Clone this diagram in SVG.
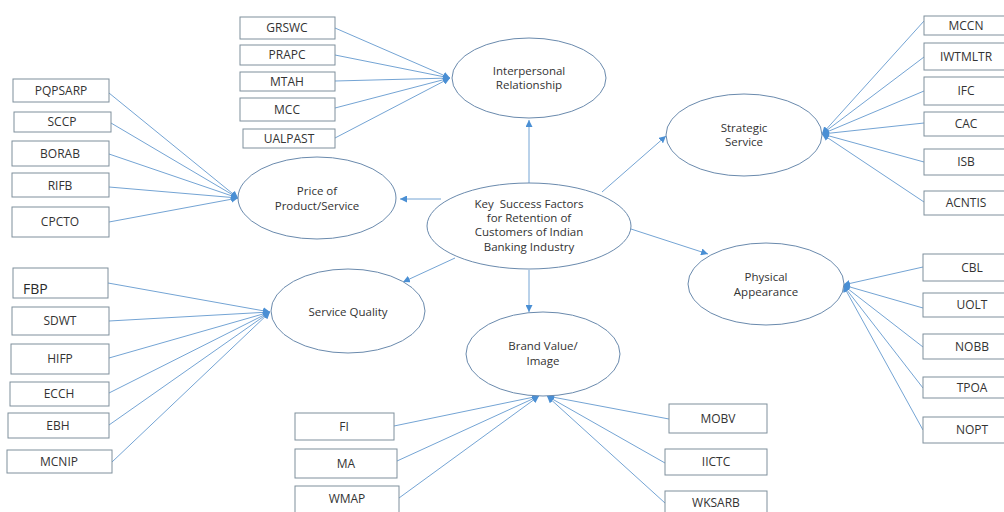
<svg xmlns="http://www.w3.org/2000/svg" width="1004" height="512" viewBox="0 0 1004 512">
<defs>
<marker id="ah" viewBox="0 0 10 10" refX="10" refY="5" markerWidth="7" markerHeight="7" markerUnits="userSpaceOnUse" orient="auto">
<path d="M0,0 L10,5 L0,10 z" fill="#4a8fd4"/>
</marker>
</defs>
<style>
.box{fill:#fff;stroke:#7f8f9c;stroke-width:1}
.ell{fill:#fff;stroke:#6a8aad;stroke-width:1}
.bt{font-family:"Open Sans","Liberation Sans",sans-serif;font-size:12px;fill:#333;text-anchor:middle}
.et{font-family:"Open Sans","Liberation Sans",sans-serif;font-size:11.5px;fill:#333;text-anchor:middle;white-space:pre}
.cn line{stroke:#74a4d4;stroke-width:1;marker-end:url(#ah)}
</style>
<rect width="1004" height="512" fill="#fff"/>
<g id="connectors" class="cn">
<line x1="335" y1="28" x2="450" y2="78"/>
<line x1="335" y1="55" x2="450" y2="78"/>
<line x1="335" y1="81" x2="450" y2="78"/>
<line x1="335" y1="108" x2="450" y2="78"/>
<line x1="335" y1="138" x2="450" y2="78"/>
<line x1="109" y1="93" x2="238" y2="198"/>
<line x1="111" y1="123" x2="238" y2="198"/>
<line x1="109" y1="154" x2="238" y2="198"/>
<line x1="109" y1="187" x2="238" y2="198"/>
<line x1="109" y1="222" x2="238" y2="198"/>
<line x1="108" y1="283" x2="270" y2="312"/>
<line x1="109" y1="321" x2="270" y2="312"/>
<line x1="109" y1="358" x2="270" y2="312"/>
<line x1="109" y1="393" x2="270" y2="312"/>
<line x1="109" y1="425" x2="270" y2="312"/>
<line x1="112" y1="462" x2="270" y2="312"/>
<line x1="394" y1="426" x2="539" y2="396"/>
<line x1="397" y1="461" x2="539" y2="396"/>
<line x1="399" y1="498" x2="539" y2="396"/>
<line x1="669" y1="419" x2="547" y2="396"/>
<line x1="665" y1="463" x2="547" y2="396"/>
<line x1="665" y1="503" x2="547" y2="396"/>
<line x1="924" y1="21" x2="822" y2="134"/>
<line x1="924" y1="57" x2="822" y2="134"/>
<line x1="924" y1="91" x2="822" y2="134"/>
<line x1="924" y1="123" x2="822" y2="134"/>
<line x1="924" y1="162" x2="822" y2="134"/>
<line x1="924" y1="202" x2="822" y2="134"/>
<line x1="923" y1="267" x2="843" y2="285"/>
<line x1="923" y1="308" x2="843" y2="285"/>
<line x1="923" y1="347" x2="843" y2="285"/>
<line x1="923" y1="388" x2="843" y2="285"/>
<line x1="923" y1="430" x2="843" y2="285"/>
<line x1="529" y1="183" x2="529" y2="120"/>
<line x1="441" y1="199" x2="400" y2="199"/>
<line x1="602" y1="192" x2="666" y2="136"/>
<line x1="631" y1="229" x2="708" y2="254"/>
<line x1="455" y1="258" x2="403" y2="282"/>
<line x1="529" y1="270" x2="529" y2="312"/>
</g>
<g id="ksf"><ellipse class="ell" cx="529" cy="226" rx="102" ry="43"/>
<text class="et" x="529" y="208" xml:space="preserve">Key  Success Factors</text>
<text class="et" x="529" y="222">for Retention of</text>
<text class="et" x="529" y="236">Customers of Indian</text>
<text class="et" x="529" y="251">Banking Industry</text></g>
<g id="interpersonal"><ellipse class="ell" cx="529" cy="78" rx="77" ry="40"/>
<text class="et" x="529" y="75">Interpersonal</text>
<text class="et" x="529" y="89">Relationship</text></g>
<g id="price"><ellipse class="ell" cx="317" cy="198" rx="79" ry="41"/>
<text class="et" x="317" y="195">Price of</text>
<text class="et" x="317" y="210">Product/Service</text></g>
<g id="strategic"><ellipse class="ell" cx="744" cy="135" rx="78" ry="41"/>
<text class="et" x="744" y="132">Strategic</text>
<text class="et" x="744" y="146">Service</text></g>
<g id="physical"><ellipse class="ell" cx="766" cy="284" rx="78" ry="41"/>
<text class="et" x="766" y="281">Physical</text>
<text class="et" x="766" y="296">Appearance</text></g>
<g id="servicequality"><ellipse class="ell" cx="348" cy="311" rx="77" ry="42"/>
<text class="et" x="348" y="316">Service Quality</text></g>
<g id="brand"><ellipse class="ell" cx="543" cy="354" rx="77" ry="42"/>
<text class="et" x="543" y="350">Brand Value/</text>
<text class="et" x="543" y="365">Image</text></g>
<g id="n-grswc"><rect class="box" x="240" y="17" width="95" height="22"/><text class="bt" x="287" y="32">GRSWC</text></g>
<g id="n-prapc"><rect class="box" x="240" y="45" width="95" height="20"/><text class="bt" x="287" y="59">PRAPC</text></g>
<g id="n-mtah"><rect class="box" x="240" y="72" width="95" height="19"/><text class="bt" x="287" y="86">MTAH</text></g>
<g id="n-mcc"><rect class="box" x="240" y="98" width="95" height="23"/><text class="bt" x="287" y="114">MCC</text></g>
<g id="n-ualpast"><rect class="box" x="243" y="129" width="92" height="19"/><text class="bt" x="289" y="143">UALPAST</text></g>
<g id="n-pqpsarp"><rect class="box" x="13" y="79" width="96" height="23"/><text class="bt" x="61" y="95">PQPSARP</text></g>
<g id="n-sccp"><rect class="box" x="14" y="112" width="97" height="20"/><text class="bt" x="62" y="126">SCCP</text></g>
<g id="n-borab"><rect class="box" x="12" y="141" width="97" height="25"/><text class="bt" x="60" y="158">BORAB</text></g>
<g id="n-rifb"><rect class="box" x="12" y="173" width="97" height="24"/><text class="bt" x="60" y="190">RIFB</text></g>
<g id="n-cpcto"><rect class="box" x="12" y="207" width="97" height="30"/><text class="bt" x="60" y="226">CPCTO</text></g>
<g id="n-fbp"><rect class="box" x="13" y="268" width="95" height="30"/><text x="23" y="294" style="font-family:'Open Sans','Liberation Sans',sans-serif;font-size:14px;fill:#2a2a2a">FBP</text></g>
<g id="n-sdwt"><rect class="box" x="12" y="307" width="97" height="28"/><text class="bt" x="60" y="325">SDWT</text></g>
<g id="n-hifp"><rect class="box" x="11" y="344" width="98" height="30"/><text class="bt" x="60" y="363">HIFP</text></g>
<g id="n-ecch"><rect class="box" x="10" y="382" width="99" height="24"/><text class="bt" x="59" y="398">ECCH</text></g>
<g id="n-ebh"><rect class="box" x="8" y="413" width="101" height="25"/><text class="bt" x="58" y="430">EBH</text></g>
<g id="n-mcnip"><rect class="box" x="7" y="450" width="105" height="23"/><text class="bt" x="59" y="466">MCNIP</text></g>
<g id="n-fi"><rect class="box" x="295" y="413" width="99" height="27"/><text class="bt" x="344" y="431">FI</text></g>
<g id="n-ma"><rect class="box" x="295" y="449" width="102" height="29"/><text class="bt" x="346" y="468">MA</text></g>
<g id="n-wmap"><rect class="box" x="295" y="486" width="104" height="30"/><text class="bt" x="347" y="503">WMAP</text></g>
<g id="n-mobv"><rect class="box" x="669" y="404" width="98" height="29"/><text class="bt" x="718" y="423">MOBV</text></g>
<g id="n-iictc"><rect class="box" x="665" y="449" width="102" height="26"/><text class="bt" x="716" y="466">IICTC</text></g>
<g id="n-wksarb"><rect class="box" x="665" y="491" width="102" height="25"/><text class="bt" x="716" y="507">WKSARB</text></g>
<g id="n-mccn"><rect class="box" x="924" y="16" width="84" height="19"/><text class="bt" x="966" y="30">MCCN</text></g>
<g id="n-iwtmltr"><rect class="box" x="924" y="43" width="84" height="27"/><text class="bt" x="966" y="61">IWTMLTR</text></g>
<g id="n-ifc"><rect class="box" x="924" y="77" width="84" height="28"/><text class="bt" x="966" y="95">IFC</text></g>
<g id="n-cac"><rect class="box" x="924" y="112" width="84" height="24"/><text class="bt" x="966" y="128">CAC</text></g>
<g id="n-isb"><rect class="box" x="924" y="149" width="84" height="26"/><text class="bt" x="966" y="166">ISB</text></g>
<g id="n-acntis"><rect class="box" x="924" y="191" width="84" height="24"/><text class="bt" x="966" y="207">ACNTIS</text></g>
<g id="n-cbl"><rect class="box" x="923" y="254" width="97" height="27"/><text class="bt" x="972" y="272">CBL</text></g>
<g id="n-uolt"><rect class="box" x="923" y="293" width="97" height="24"/><text class="bt" x="972" y="309">UOLT</text></g>
<g id="n-nobb"><rect class="box" x="923" y="334" width="97" height="25"/><text class="bt" x="972" y="351">NOBB</text></g>
<g id="n-tpoa"><rect class="box" x="923" y="377" width="97" height="21"/><text class="bt" x="972" y="392">TPOA</text></g>
<g id="n-nopt"><rect class="box" x="923" y="417" width="97" height="26"/><text class="bt" x="972" y="434">NOPT</text></g>
</svg>
